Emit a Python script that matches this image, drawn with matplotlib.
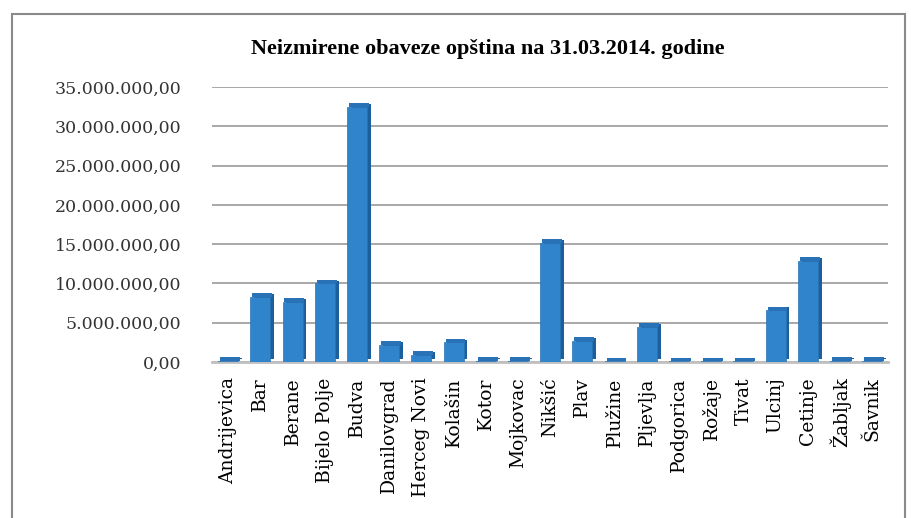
import matplotlib.pyplot as plt
from matplotlib.patches import Rectangle
from matplotlib.ticker import FuncFormatter

opstine = ['Andrijevica', 'Bar', 'Berane', 'Bijelo Polje', 'Budva', 'Danilovgrad',
           'Herceg Novi', 'Kolašin', 'Kotor', 'Mojkovac', 'Nikšić', 'Plav', 'Plužine',
           'Pljevlja', 'Podgorica', 'Rožaje', 'Tivat', 'Ulcinj', 'Cetinje', 'Žabljak', 'Šavnik']
obaveze = [150000, 8300000, 7700000, 10000000, 32500000, 2200000,
           900000, 2500000, 150000, 150000, 15200000, 2700000, 80000,
           4500000, 100000, 100000, 100000, 6600000, 12900000, 150000, 150000]

y_ticks = [0, 5e6, 10e6, 15e6, 20e6, 25e6, 30e6, 35e6]


def fmt(v, pos):
    # 35.000.000,00 format
    return '{:,.2f}'.format(v).replace(',', 'X').replace('.', ',').replace('X', '.')


fig = plt.figure(figsize=(9.12, 5.18), dpi=100)
fig.patches.append(Rectangle((0.013, -0.01), 0.979, 0.983, transform=fig.transFigure,
                             fill=False, edgecolor='#8a8a8a', linewidth=1.5))

ax = fig.add_axes([0.2325, 0.301, 0.7415, 0.531])
x = range(len(opstine))

# pseudo 3D: dark side face and top face behind the front face
ax.bar([i + 0.12 for i in x], obaveze, width=0.62, bottom=[350000] * len(x),
       color='#1d5f9c', zorder=2)
ax.bar([i + 0.06 for i in x], [450000] * len(x), width=0.62, bottom=obaveze,
       color='#2a72b8', zorder=2)
ax.bar(x, obaveze, width=0.62, color='#2f84cc', edgecolor='#2a73b5', linewidth=0.5, zorder=3)

ax.set_xlim(-0.5, len(opstine) - 0.5)
ax.set_ylim(0, 35e6)
ax.set_yticks(y_ticks)
ax.yaxis.set_major_formatter(FuncFormatter(fmt))
ax.grid(axis='y', color='#9a9a9a', linewidth=1.2, zorder=0)
ax.set_axisbelow(True)
for s in ['top', 'right', 'left']:
    ax.spines[s].set_visible(False)
ax.spines['bottom'].set_color('#c0c0c0')
ax.spines['bottom'].set_linewidth(2)

ax.set_xticks(list(x))
ax.set_xticklabels(opstine, rotation=90, fontsize=13.5, family='DejaVu Serif')
ax.tick_params(axis='both', length=0)
ax.tick_params(axis='y', pad=22, labelsize=12.5, labelcolor='#333333')
ax.tick_params(axis='x', pad=11)
for lbl in ax.get_yticklabels():
    lbl.set_family('DejaVu Serif')

fig.text(0.535, 0.895, 'Neizmirene obaveze opština na 31.03.2014. godine', ha='center',
         fontsize=16, fontweight='bold', family='Liberation Serif')

plt.savefig('out.png', dpi=100)
